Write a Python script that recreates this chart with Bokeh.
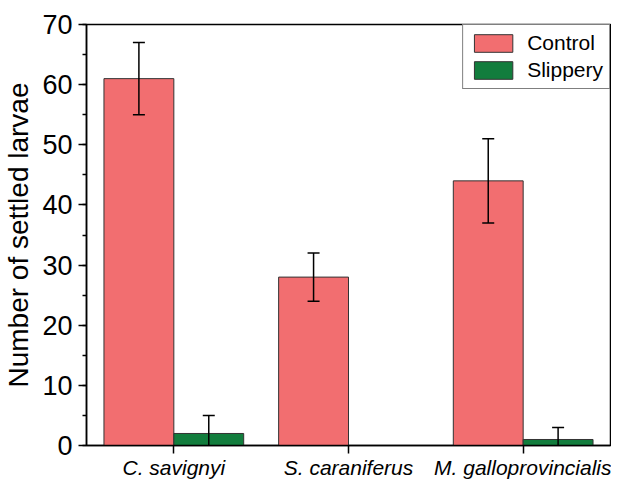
from bokeh.plotting import figure
from bokeh.models import ColumnDataSource, Whisker, TeeHead, SingleIntervalTicker, Range1d, FactorRange, Legend, LegendItem
from bokeh.transform import dodge
from bokeh.embed import file_html
from bokeh.resources import INLINE

species = ["C. savignyi", "S. caraniferus", "M. galloprovincialis"]
control = [61, 28, 44]
control_err = [6, 4, 7]
slippery = [2, 0, 1]
slippery_err = [3, 0, 2]

FONT = "Liberation Sans"
CONTROL_COLOR = "#F26E70"
SLIPPERY_COLOR = "#127D3D"

p = figure(width=611, height=481, x_range=FactorRange(*species), y_range=Range1d(0, 70),
           output_backend="svg", toolbar_location=None,
           min_border_left=86, min_border_right=1, min_border_top=24, min_border_bottom=30)
p.x_range.range_padding = 0
p.grid.visible = False
p.outline_line_color = "black"
p.outline_line_width = 1.5
p.background_fill_color = "white"
p.border_fill_color = "white"

src = ColumnDataSource(dict(species=species, control=control, slippery=slippery))
r1 = p.vbar(x=dodge("species", -0.2, range=p.x_range), top="control", width=0.4, source=src,
            fill_color=CONTROL_COLOR, line_color="#333333", line_width=1)
r2 = p.vbar(x=dodge("species", 0.2, range=p.x_range), top="slippery", width=0.4, source=src,
            fill_color=SLIPPERY_COLOR, line_color="#333333", line_width=1)

def add_err(vals, errs, off):
    xs = [s for s, e in zip(species, errs) if e > 0]
    up = [v + e for v, e in zip(vals, errs) if e > 0]
    lo = [v - e for v, e in zip(vals, errs) if e > 0]
    es = ColumnDataSource(dict(species=xs, upper=up, lower=lo))
    w = Whisker(source=es, base=dodge("species", off, range=p.x_range), upper="upper", lower="lower",
                line_color="black", line_width=1.5, level="overlay",
                upper_head=TeeHead(size=12, line_color="black", line_width=1.5),
                lower_head=TeeHead(size=12, line_color="black", line_width=1.5))
    p.add_layout(w)

add_err(control, control_err, -0.2)
add_err(slippery, slippery_err, 0.2)

# y axis
p.yaxis.ticker = SingleIntervalTicker(interval=10, num_minor_ticks=2)
p.yaxis.axis_label = "Number of settled larvae"
p.yaxis.axis_label_text_font = FONT
p.yaxis.axis_label_text_font_size = "28px"
p.yaxis.axis_label_text_font_style = "normal"
p.yaxis.axis_label_standoff = 5
p.yaxis.major_label_text_font = FONT
p.yaxis.major_label_text_font_size = "27px"
p.yaxis.major_label_standoff = 6
p.yaxis.major_tick_out = 8
p.yaxis.major_tick_in = 0
p.yaxis.minor_tick_out = 4
p.yaxis.minor_tick_in = 0

# x axis
p.xaxis.major_label_text_font = FONT
p.xaxis.major_label_text_font_size = "21px"
p.xaxis.major_label_text_font_style = "italic"
p.xaxis.major_label_standoff = 2
p.xaxis.major_tick_out = 8
p.xaxis.major_tick_in = 0

for ax in (p.xaxis, p.yaxis):
    ax.axis_line_color = "black"
    ax.axis_line_width = 1.5
    ax.major_tick_line_color = "black"
    ax.major_tick_line_width = 1.5
    ax.minor_tick_line_color = "black"
    ax.minor_tick_line_width = 1.5
    ax.major_label_text_color = "black"
    ax.axis_label_text_color = "black"

legend = Legend(items=[LegendItem(label="Control", renderers=[r1]),
                       LegendItem(label="Slippery", renderers=[r2])],
                location="top_right")
legend.margin = 0
legend.padding = 6
legend.spacing = 3
legend.glyph_width = 48
legend.glyph_height = 22
legend.label_text_font = FONT
legend.label_text_font_size = "21px"
legend.label_text_color = "black"
legend.label_standoff = 10
legend.label_height = 22
legend.border_line_color = "black"
legend.border_line_width = 1.5
legend.background_fill_alpha = 1
p.add_layout(legend)

open("out.html", "w").write(file_html(p, INLINE))
